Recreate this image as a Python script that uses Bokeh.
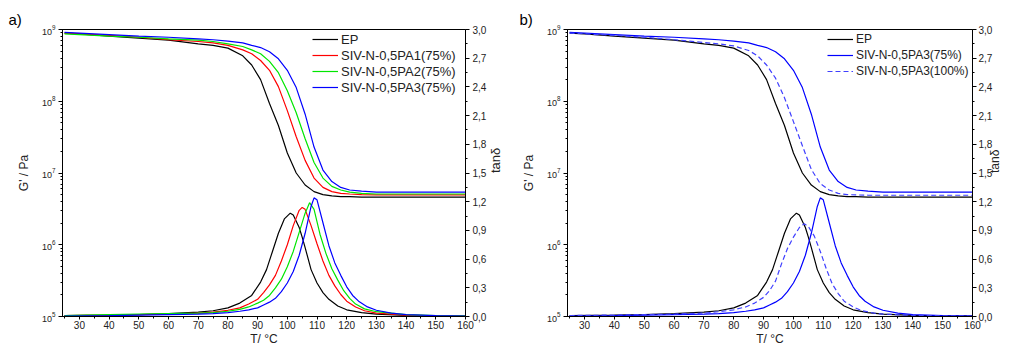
import math
from bokeh.plotting import figure
from bokeh.models import (Range1d, LinearAxis, FixedTicker, CustomJSTickFormatter,
                          Legend, LegendItem, LinearScale, Title)
from bokeh.layouts import row
from bokeh.embed import file_html
from bokeh.resources import INLINE

FONT = "Liberation Sans"

# ---------------- data ----------------
T_G = [25, 30, 40, 50, 60, 70, 75, 80, 85, 88, 91, 94, 97, 100, 103, 106, 109,
       112, 115, 118, 121, 125, 130, 140, 150, 160]

G_EP = [8.9e8, 8.7e8, 8.1e8, 7.6e8, 7.1e8, 6.3e8, 6.0e8, 5.5e8, 4.3e8, 3.2e8, 2.0e8,
        9.3e7, 4.6e7, 1.9e7, 1.0e7, 6.8e6, 5.5e6, 5.0e6, 4.8e6, 4.7e6, 4.7e6, 4.6e6,
        4.6e6, 4.6e6, 4.6e6, 4.6e6]
G_PA1_75 = [8.9e8, 8.7e8, 8.3e8, 7.8e8, 7.2e8, 6.8e8, 6.5e8, 6.0e8, 5.2e8, 4.6e8, 3.7e8,
            2.7e8, 1.6e8, 7.4e7, 3.2e7, 1.5e7, 8.5e6, 6.3e6, 5.5e6, 5.2e6, 5.1e6, 5.0e6,
            4.95e6, 4.95e6, 4.95e6, 4.95e6]
G_PA2_75 = [8.7e8, 8.5e8, 8.1e8, 7.8e8, 7.4e8, 7.1e8, 6.8e8, 6.3e8, 5.8e8, 5.2e8, 4.6e8,
            3.6e8, 2.5e8, 1.4e8, 6.9e7, 3.0e7, 1.4e7, 8.5e6, 6.5e6, 5.8e6, 5.4e6, 5.2e6,
            5.1e6, 5.1e6, 5.1e6, 5.1e6]
G_PA3_75 = [9.1e8, 8.9e8, 8.5e8, 8.1e8, 7.8e8, 7.4e8, 7.2e8, 6.9e8, 6.5e8, 6.0e8, 5.6e8,
            4.9e8, 3.9e8, 2.7e8, 1.55e8, 6.6e7, 2.3e7, 1.1e7, 7.6e6, 6.3e6, 5.8e6, 5.6e6,
            5.4e6, 5.4e6, 5.4e6, 5.4e6]
G_PA3_100 = [8.9e8, 8.7e8, 8.3e8, 7.8e8, 7.2e8, 6.6e8, 6.3e8, 5.9e8, 5.1e8, 4.3e8, 3.2e8,
             2.1e8, 1.12e8, 5.2e7, 2.4e7, 1.12e7, 7.1e6, 5.8e6, 5.2e6, 5.0e6, 4.95e6, 4.9e6,
             4.9e6, 4.9e6, 4.9e6, 4.9e6]

T_tan_EP = [25, 40, 50, 60, 70, 75, 80, 84, 88, 91, 93, 95, 97, 99, 101, 102, 104, 105,
            106, 108, 110, 112, 114, 117, 120, 125, 130, 140, 150, 160]
tan_EP = [0.01, 0.015, 0.02, 0.03, 0.045, 0.06, 0.09, 0.14, 0.22, 0.36, 0.49, 0.68, 0.87,
          1.02, 1.08, 1.06, 0.93, 0.83, 0.72, 0.49, 0.35, 0.25, 0.18, 0.11, 0.07, 0.04,
          0.025, 0.012, 0.008, 0.006]

T_tan_PA1_75 = [25, 40, 50, 60, 70, 75, 80, 84, 87, 90, 92, 94, 96, 98, 100, 102, 104,
                105, 106, 108, 110, 112, 114, 116, 118, 120, 123, 126, 130, 140, 150, 160]
tan_PA1_75 = [0.01, 0.015, 0.02, 0.025, 0.035, 0.045, 0.065, 0.09, 0.13, 0.18, 0.25,
              0.33, 0.43, 0.58, 0.75, 0.95, 1.11, 1.14, 1.12, 0.95, 0.76, 0.58, 0.43,
              0.32, 0.23, 0.16, 0.10, 0.06, 0.035, 0.015, 0.008, 0.006]

T_tan_PA2_75 = [25, 40, 50, 60, 70, 75, 80, 84, 87, 90, 92, 94, 96, 98, 100, 102, 104,
                106, 107.5, 109, 111, 113, 115, 117, 119, 121, 123, 126, 130, 140, 150, 160]
tan_PA2_75 = [0.01, 0.02, 0.025, 0.03, 0.035, 0.04, 0.055, 0.075, 0.10, 0.14, 0.17,
              0.22, 0.30, 0.39, 0.52, 0.68, 0.88, 1.08, 1.19, 1.12, 0.86, 0.66, 0.50,
              0.38, 0.27, 0.19, 0.13, 0.08, 0.05, 0.02, 0.01, 0.006]

T_tan_PA3_75 = [25, 40, 50, 60, 70, 75, 80, 84, 87, 90, 92, 94, 96, 98, 100, 102, 104,
                106, 108, 109, 110, 112, 114, 116, 118, 120, 122, 124, 127, 130, 135, 140,
                150, 160]
tan_PA3_75 = [0.005, 0.01, 0.015, 0.02, 0.025, 0.03, 0.04, 0.055, 0.07, 0.09, 0.12, 0.15,
              0.19, 0.26, 0.35, 0.47, 0.64, 0.87, 1.15, 1.24, 1.22, 0.98, 0.74, 0.56,
              0.43, 0.31, 0.22, 0.16, 0.10, 0.065, 0.035, 0.02, 0.01, 0.005]

T_tan_PA3_100 = [25, 40, 50, 60, 70, 75, 80, 84, 87, 90, 92, 94, 96, 98, 100, 102, 103.6,
                 105, 107, 109, 111, 113, 115, 117, 120, 123, 127, 130, 140, 150, 160]
tan_PA3_100 = [0.01, 0.015, 0.02, 0.025, 0.035, 0.05, 0.07, 0.10, 0.14, 0.20, 0.27, 0.37,
               0.55, 0.71, 0.83, 0.93, 0.97, 0.94, 0.84, 0.68, 0.50, 0.34, 0.24, 0.16,
               0.10, 0.06, 0.035, 0.025, 0.012, 0.008, 0.005]

X_TICKS = [30, 40, 50, 60, 70, 80, 90, 100, 110, 120, 130, 140, 150, 160]
X_MINOR = [25, 35, 45, 55, 65, 75, 85, 95, 105, 115, 125, 135, 145, 155]
TAN_TICKS = [0.0, 0.3, 0.6, 0.9, 1.2, 1.5, 1.8, 2.1, 2.4, 2.7, 3.0]
TAN_MINOR = [0.15, 0.45, 0.75, 1.05, 1.35, 1.65, 1.95, 2.25, 2.55, 2.85]

LEG_P1 = ["EP", "SIV-N-0,5PA1(75%)", "SIV-N-0,5PA2(75%)", "SIV-N-0,5PA3(75%)"]
LEG_P2 = ["EP", "SIV-N-0,5PA3(75%)", "SIV-N-0,5PA3(100%)"]

BLACK, RED, GREEN, BLUE, LBLUE = "#000000", "#ff0000", "#00e600", "#0000ff", "#4040ff"
X_RANGE = (24.3, 160)
H = 348
TXT = "#222222"


def style_axis(ax, size="10px"):
    ax.axis_line_color = "black"
    ax.major_tick_line_color = "black"
    ax.minor_tick_line_color = "black"
    ax.major_tick_in = 0
    ax.major_tick_out = 4
    ax.minor_tick_in = 0
    ax.minor_tick_out = 2
    ax.major_label_text_font = FONT
    ax.major_label_text_font_size = size
    ax.major_label_text_color = TXT
    ax.major_label_standoff = 3


def label_style(ax, size="13px", standoff=0):
    ax.axis_label_text_font = FONT
    ax.axis_label_text_font_size = size
    ax.axis_label_text_font_style = "normal"
    ax.axis_label_text_color = TXT
    ax.axis_label_standoff = standoff


def build(width, left_border, right_border, series, leg_xy, leg_font, tag, tag_offset,
          tan_standoff, tan_size, tan_label_standoff):
    p = figure(width=width, height=H, x_range=Range1d(*X_RANGE), y_range=Range1d(1e5, 1e9),
               y_axis_type="log", output_backend="svg", toolbar_location=None,
               min_border_left=left_border, min_border_right=right_border, min_border_top=29,
               min_border_bottom=32)
    p.extra_y_ranges = {"tan": Range1d(0, 3)}
    p.extra_y_scales = {"tan": LinearScale()}
    p.xgrid.visible = False
    p.ygrid.visible = False
    p.outline_line_color = "black"
    p.background_fill_color = "white"

    p.title = Title(text=tag, align="left", offset=tag_offset, standoff=4,
                    text_font=FONT, text_font_size="15px", text_font_style="normal",
                    text_color="black")

    xa = p.xaxis[0]
    xa.ticker = FixedTicker(ticks=X_TICKS, minor_ticks=X_MINOR)
    style_axis(xa)
    xa.major_tick_out = 3
    xa.major_label_standoff = 1
    xa.axis_label = "T/ \u00b0C"
    label_style(xa, "12px", 0)

    ya = p.yaxis[0]
    style_axis(ya, "9px")
    ya.axis_label = "G' / Pa"
    label_style(ya, "12px", 8)

    ra = LinearAxis(y_range_name="tan",
                    ticker=FixedTicker(ticks=TAN_TICKS, minor_ticks=TAN_MINOR),
                    formatter=CustomJSTickFormatter(code="return tick.toFixed(1).replace('.', ',');"))
    style_axis(ra)
    ra.major_label_standoff = tan_label_standoff
    ra.axis_label = "tan\u03b4"
    label_style(ra, tan_size, tan_standoff)
    if "axis_label_orientation" in LinearAxis.properties():
        ra.axis_label_orientation = math.pi / 2
    p.add_layout(ra, "right")

    items = []
    for label, Tg, G, Tt, tn, color, dash in series:
        r1 = p.line(Tg, G, line_color=color, line_width=1.2, line_dash=dash)
        p.line(Tt, tn, line_color=color, line_width=1.2, line_dash=dash, y_range_name="tan")
        items.append(LegendItem(label=label, renderers=[r1]))

    leg = Legend(items=items, location=leg_xy, border_line_color=None,
                 background_fill_alpha=0, padding=0, margin=0, spacing=0,
                 glyph_width=26, glyph_height=16, label_height=16, label_standoff=3,
                 label_text_font=FONT, label_text_font_size=leg_font,
                 label_text_color=TXT)
    p.add_layout(leg)
    return p


s1 = [
    (LEG_P1[0], T_G, G_EP, T_tan_EP, tan_EP, BLACK, "solid"),
    (LEG_P1[1], T_G, G_PA1_75, T_tan_PA1_75, tan_PA1_75, RED, "solid"),
    (LEG_P1[2], T_G, G_PA2_75, T_tan_PA2_75, tan_PA2_75, GREEN, "solid"),
    (LEG_P1[3], T_G, G_PA3_75, T_tan_PA3_75, tan_PA3_75, BLUE, "solid"),
]
s2 = [
    (LEG_P2[0], T_G, G_EP, T_tan_EP, tan_EP, BLACK, "solid"),
    (LEG_P2[1], T_G, G_PA3_75, T_tan_PA3_75, tan_PA3_75, BLUE, "solid"),
    (LEG_P2[2], T_G, G_PA3_100, T_tan_PA3_100, tan_PA3_100, LBLUE, "5 3"),
]

p1 = build(513, 62, 47, s1, (250, 221), "13px", "a)", -54, 6, "13px", 3)
p2 = build(499, 54, 39, s2, (260, 237), "12px", "b)", -48, 0, "12px", 2)

layout = row(p1, p2)
open("out.html", "w").write(file_html(layout, INLINE))
